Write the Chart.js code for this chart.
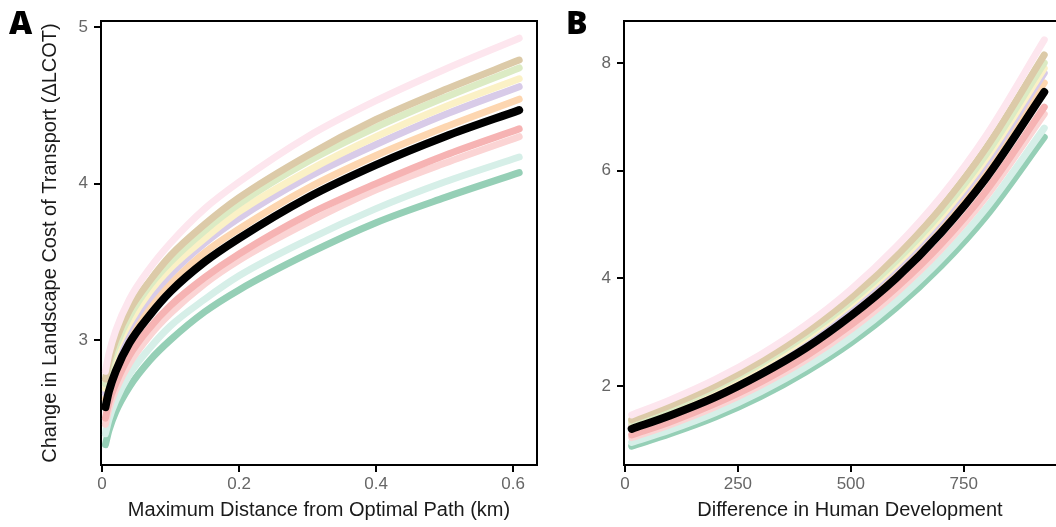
<!DOCTYPE html>
<html>
<head>
<meta charset="utf-8">
<script src="https://cdn.jsdelivr.net/npm/chart.js@4/dist/chart.umd.min.js"></script>
<style>
  html, body { margin: 0; padding: 0; background: #fff; width: 1056px; height: 527px; overflow: hidden; }
  #wrapA { position: absolute; left: 0; top: 0; width: 545px; height: 527px; }
  #wrapB { position: absolute; left: 545px; top: 0; width: 555px; height: 527px; }
  .tag { position: absolute; font-family: "Open Sans", sans-serif; font-weight: 800; font-size: 32px; line-height: 32px; color: #000; }
</style>
</head>
<body>
<div id="wrapA"><canvas id="chartA" width="545" height="527"></canvas></div>
<div id="wrapB"><canvas id="chartB" width="555" height="527"></canvas></div>
<div class="tag" style="left:9px; top:6px;">A</div>
<div class="tag" style="left:566px; top:6px;">B</div>
<script>
// panel A: x = maximum distance from optimal path (km)
const distKm = [0.005, 0.01, 0.02, 0.04, 0.07, 0.1, 0.15, 0.2, 0.3, 0.4, 0.5, 0.609];
const aPink     = [2.80, 2.91, 3.06, 3.26, 3.46, 3.62, 3.84, 4.01, 4.30, 4.53, 4.73, 4.93];
const aTan      = [2.75, 2.86, 3.00, 3.19, 3.38, 3.54, 3.74, 3.91, 4.18, 4.41, 4.60, 4.79];
const aGreen    = [2.72, 2.83, 2.96, 3.15, 3.35, 3.50, 3.70, 3.87, 4.14, 4.36, 4.55, 4.74];
const aYellow   = [2.69, 2.79, 2.93, 3.11, 3.31, 3.46, 3.65, 3.82, 4.08, 4.30, 4.49, 4.67];
const aLavender = [2.66, 2.76, 2.90, 3.08, 3.27, 3.42, 3.62, 3.78, 4.04, 4.25, 4.44, 4.62];
const aPeach    = [2.62, 2.72, 2.85, 3.03, 3.22, 3.36, 3.56, 3.71, 3.97, 4.18, 4.36, 4.54];
const aSalmon   = [2.50, 2.60, 2.72, 2.90, 3.08, 3.22, 3.40, 3.55, 3.80, 4.00, 4.18, 4.35];
const aRose     = [2.46, 2.56, 2.68, 2.85, 3.03, 3.17, 3.36, 3.51, 3.75, 3.96, 4.13, 4.30];
const aMint     = [2.40, 2.49, 2.61, 2.78, 2.95, 3.09, 3.26, 3.41, 3.64, 3.84, 4.01, 4.17];
const aTeal     = [2.33, 2.42, 2.54, 2.70, 2.87, 3.00, 3.18, 3.32, 3.55, 3.75, 3.91, 4.07];
const aMean     = [2.57, 2.67, 2.80, 2.98, 3.16, 3.31, 3.50, 3.65, 3.91, 4.12, 4.30, 4.47];

// panel B: x = difference in human development
const humanDev = [15, 100, 200, 300, 400, 500, 600, 700, 800, 928];
const bPink     = [1.46, 1.74, 2.12, 2.58, 3.13, 3.79, 4.58, 5.52, 6.66, 8.43];
const bTan      = [1.37, 1.64, 2.01, 2.46, 3.00, 3.64, 4.41, 5.32, 6.43, 8.15];
const bGreen    = [1.34, 1.60, 1.97, 2.41, 2.94, 3.57, 4.32, 5.22, 6.31, 8.00];
const bYellow   = [1.31, 1.57, 1.94, 2.37, 2.89, 3.52, 4.26, 5.15, 6.23, 7.90];
const bLavender = [1.28, 1.54, 1.90, 2.33, 2.85, 3.47, 4.21, 5.09, 6.15, 7.81];
const bPeach    = [1.24, 1.49, 1.85, 2.27, 2.77, 3.38, 4.10, 4.97, 6.01, 7.63];
const bSalmon   = [1.09, 1.33, 1.67, 2.07, 2.55, 3.13, 3.82, 4.64, 5.63, 7.18];
const bRose     = [1.04, 1.28, 1.61, 2.01, 2.48, 3.05, 3.73, 4.54, 5.52, 7.05];
const bMint     = [0.95, 1.18, 1.50, 1.89, 2.35, 2.90, 3.57, 4.36, 5.31, 6.79];
const bTeal     = [0.88, 1.11, 1.42, 1.80, 2.26, 2.80, 3.45, 4.23, 5.16, 6.62];
const bMean     = [1.20, 1.45, 1.79, 2.21, 2.70, 3.30, 4.00, 4.85, 5.87, 7.46];

const ticksAx = [0, 0.2, 0.4, 0.6];
const ticksAy = [3, 4, 5];
const ticksBx = [0, 250, 500, 750, 1000];
const ticksBy = [2, 4, 6, 8];

const groupColors = ['#fde6ee', '#dccaa8', '#dcebc4', '#fbf1c6', '#d8cbe8', '#fdd6b0', '#f6b3b3', '#fbd4d4', '#d6efe8', '#95cfb6'];

const toPts = (xs, ys) => xs.map((x, i) => ({ x: x, y: ys[i] }));

const makeSets = (xs, groups, mean) => {
  const sets = groups.map((g, i) => ({
    data: toPts(xs, g),
    borderColor: groupColors[i],
    borderWidth: 7,
    order: 1
  }));
  sets.push({ data: toPts(xs, mean), borderColor: '#000', borderWidth: 8, order: 0 });
  return sets;
};

// top and right edges of the panel box
const boxPlugin = {
  id: 'box',
  afterDraw(chart) {
    const { ctx, chartArea: a } = chart;
    ctx.save();
    ctx.strokeStyle = '#000';
    ctx.lineWidth = 2;
    ctx.beginPath();
    ctx.moveTo(a.left, a.top);
    ctx.lineTo(a.right, a.top);
    ctx.lineTo(a.right, a.bottom);
    ctx.stroke();
    ctx.restore();
  }
};

const tickFont = { family: 'Liberation Sans', size: 17 };
const titleFont = { family: 'Liberation Sans', size: 20 };

const axis = (min, max, tickVals, extra) => Object.assign({
  type: 'linear',
  min: min,
  max: max,
  afterBuildTicks: s => { s.ticks = tickVals.map(v => ({ value: v })); },
  grid: { drawOnChartArea: false, drawTicks: true, tickLength: 7, color: '#000', lineWidth: 2 },
  border: { display: true, color: '#000', width: 2 },
  ticks: { font: tickFont, color: '#666', padding: 6 }
}, extra);

const makeChart = (id, datasets, xCfg, yCfg, padRight) => new Chart(document.getElementById(id), {
  type: 'line',
  data: { datasets: datasets },
  options: {
    responsive: false,
    animation: false,
    devicePixelRatio: 1,
    layout: { padding: { top: 21, right: padRight, left: 0, bottom: 0 } },
    elements: {
      point: { radius: 0 },
      line: { cubicInterpolationMode: 'monotone', borderCapStyle: 'round', borderJoinStyle: 'round', fill: false }
    },
    plugins: { legend: { display: false }, tooltip: { enabled: false } },
    scales: { x: xCfg, y: yCfg }
  },
  plugins: [boxPlugin]
});

makeChart('chartA',
  makeSets(distKm, [aPink, aTan, aGreen, aYellow, aLavender, aPeach, aSalmon, aRose, aMint, aTeal], aMean),
  axis(-0.0015, 0.635, ticksAx, {
    afterFit: s => { s.height = 62; },
    ticks: { font: tickFont, color: '#666', padding: 2, callback: v => String(v) },
    title: { display: true, text: 'Maximum Distance from Optimal Path (km)', font: titleFont, color: '#1a1a1a', padding: { top: 0, bottom: 5 } }
  }),
  axis(2.2, 5.04, ticksAy, {
    afterFit: s => { s.width = 101; },
    title: { display: true, text: 'Change in Landscape Cost of Transport (\u0394LCOT)', font: titleFont, color: '#1a1a1a', padding: { top: 38, bottom: 0 } }
  }),
  8);

makeChart('chartB',
  makeSets(humanDev, [bPink, bTan, bGreen, bYellow, bLavender, bPeach, bSalmon, bRose, bMint, bTeal], bMean),
  axis(-2, 998, ticksBx, {
    afterFit: s => { s.height = 62; },
    ticks: { font: tickFont, color: '#666', padding: 2 },
    title: { display: true, text: 'Difference in Human Development', font: titleFont, color: '#1a1a1a', padding: { top: 0, bottom: 5 } }
  }),
  axis(0.53, 8.78, ticksBy, {
    afterFit: s => { s.width = 79; }
  }),
  20);
</script>
</body>
</html>
